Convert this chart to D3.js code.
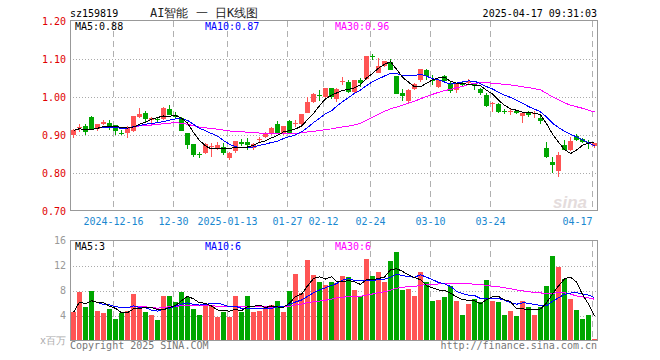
<!DOCTYPE html>
<head>
<meta charset="utf-8">
<style>
body { margin: 0; background: #fff; }
text { font-family: "DejaVu Sans Mono", monospace; font-size: 10px; }
</style>
</head>
<body>
<div id="chart"></div>
<script src="https://d3js.org/d3.v7.min.js"></script>
<script>
// trading days shown
var dates = [
  "2024-12-05","2024-12-06","2024-12-09","2024-12-10","2024-12-11","2024-12-12","2024-12-13","2024-12-16","2024-12-17","2024-12-18",
  "2024-12-19","2024-12-20","2024-12-23","2024-12-24","2024-12-25","2024-12-26","2024-12-27","2024-12-30","2024-12-31",
  "2025-01-02","2025-01-03","2025-01-06","2025-01-07","2025-01-08","2025-01-09","2025-01-10","2025-01-13","2025-01-14","2025-01-15",
  "2025-01-16","2025-01-17","2025-01-20","2025-01-21","2025-01-22","2025-01-23","2025-01-24","2025-01-27",
  "2025-02-05","2025-02-06","2025-02-07","2025-02-10","2025-02-11","2025-02-12","2025-02-13","2025-02-14","2025-02-17","2025-02-18",
  "2025-02-19","2025-02-20","2025-02-21","2025-02-24","2025-02-25","2025-02-26","2025-02-27","2025-02-28",
  "2025-03-03","2025-03-04","2025-03-05","2025-03-06","2025-03-07","2025-03-10","2025-03-11","2025-03-12","2025-03-13","2025-03-14",
  "2025-03-17","2025-03-18","2025-03-19","2025-03-20","2025-03-21","2025-03-24","2025-03-25","2025-03-26","2025-03-27","2025-03-28","2025-03-31",
  "2025-04-01","2025-04-02","2025-04-03","2025-04-07","2025-04-08","2025-04-09","2025-04-10","2025-04-11","2025-04-14","2025-04-15","2025-04-16","2025-04-17"
];
var opens = [0.898,0.919,0.924,0.948,0.915,0.930,0.932,0.926,0.906,0.905,0.911,0.948,0.957,0.940,0.942,0.941,0.968,0.953,0.944,0.906,
  0.875,0.850,0.852,0.870,0.865,0.868,0.839,0.860,0.882,0.882,0.866,0.888,0.896,0.903,0.928,0.904,0.937,0.929,0.929,0.959,
  0.988,1.004,0.999,1.023,0.994,1.042,1.040,1.014,1.045,1.047,1.107,1.064,1.082,1.093,1.055,1.010,0.988,1.020,1.043,1.071,
  1.046,1.027,1.054,1.038,1.017,1.035,1.038,1.036,1.020,1.005,0.983,0.982,0.962,0.961,0.962,0.948,0.961,0.958,0.946,0.865,
  0.830,0.806,0.874,0.861,0.897,0.890,0.882,0.871];
var highs = [0.915,0.929,0.929,0.950,0.930,0.940,0.940,0.926,0.913,0.924,0.950,0.970,0.964,0.948,0.948,0.975,0.979,0.961,0.948,0.906,
  0.875,0.856,0.878,0.880,0.882,0.878,0.856,0.885,0.889,0.891,0.878,0.894,0.909,0.920,0.938,0.924,0.940,0.940,0.955,1.001,
  1.011,1.018,1.025,1.023,1.023,1.053,1.046,1.045,1.049,1.108,1.113,1.102,1.096,1.099,1.055,1.020,1.020,1.036,1.075,1.073,
  1.058,1.046,1.058,1.040,1.036,1.040,1.047,1.038,1.023,1.010,0.988,0.985,0.968,0.970,0.966,0.957,0.962,0.962,0.952,0.882,
  0.841,0.856,0.887,0.894,0.903,0.891,0.887,0.880];
var lows = [0.893,0.909,0.900,0.913,0.910,0.926,0.913,0.900,0.900,0.891,0.908,0.944,0.935,0.930,0.932,0.940,0.953,0.946,0.911,0.862,
  0.843,0.839,0.850,0.843,0.860,0.847,0.834,0.853,0.871,0.860,0.860,0.882,0.891,0.900,0.904,0.900,0.903,0.920,0.926,0.957,
  0.985,0.990,0.996,0.996,0.988,1.032,1.011,1.010,1.027,1.045,1.097,1.062,1.080,1.071,1.008,0.990,0.985,1.018,1.040,1.046,
  1.032,1.025,1.037,1.010,1.010,1.027,1.034,1.018,1.005,0.973,0.961,0.957,0.955,0.953,0.955,0.932,0.948,0.946,0.929,0.839,
  0.799,0.789,0.861,0.859,0.885,0.878,0.862,0.867];
var closes = [0.912,0.921,0.909,0.917,0.929,0.935,0.920,0.911,0.905,0.920,0.950,0.955,0.940,0.944,0.941,0.970,0.953,0.948,0.911,0.874,
  0.847,0.849,0.875,0.871,0.874,0.853,0.852,0.885,0.878,0.874,0.876,0.889,0.906,0.918,0.904,0.924,0.903,0.931,0.955,0.988,
  1.008,1.003,1.023,0.999,1.020,1.043,1.014,1.045,1.038,1.108,1.106,1.082,1.096,1.073,1.008,1.001,1.018,1.034,1.073,1.055,
  1.045,1.046,1.042,1.017,1.034,1.034,1.042,1.027,1.010,0.976,0.984,0.961,0.961,0.962,0.958,0.957,0.953,0.959,0.938,0.841,
  0.821,0.847,0.862,0.885,0.887,0.883,0.876,0.878];
// volume in millions
var volumes = [4.5,7.8,5.3,7.9,4.8,4.4,5.1,3.5,4.4,4.8,7.5,5.4,4.6,4.1,3.3,7.2,7.2,6.2,7.8,7.0,
  5.1,4.1,5.8,5.6,3.8,4.5,3.8,7.2,4.5,7.2,4.6,4.8,5.3,5.7,6.4,4.5,7.9,10.7,7.6,12.9,
  10.5,9.3,8.9,9.4,9.2,10.3,10.1,8.1,7.1,13.1,10.3,11.0,9.3,12.8,14.1,8.1,8.2,7.2,11.0,9.3,
  6.4,6.5,6.9,8.8,6.4,4.1,5.9,6.7,6.2,9.7,6.4,6.2,4.1,4.8,3.9,6.4,5.4,4.1,5.4,8.8,
  13.5,11.8,9.9,6.7,4.9,3.5,4.1,0.2];

var tickDates = ["2024-12-16","2024-12-30","2025-01-13","2025-01-27","2025-02-12","2025-02-24","2025-03-10","2025-03-24","2025-04-17"];
var tickLabels = ["2024-12-16","12-30","2025-01-13","01-27","02-12","02-24","03-10","03-24","04-17"];
var priceTicks = [0.70, 0.80, 0.90, 1.00, 1.10, 1.20];
var volTicks = [4, 8, 12, 16];

var RED = "#ff5454", GREEN = "#00a600";

var svg = d3.select("#chart").append("svg")
    .attr("width", 660)
    .attr("height", 360);

var x = d3.scaleBand().domain(dates).range([70, 597]);
var bw = x.bandwidth();
function cx(i) { return Math.round(x(dates[i]) + bw / 2) + 0.5; }
function gx(d) { return Math.round(x(d)) + 1.5; }

var y = d3.scaleLinear().domain([0.70, 1.20]).range([211, 21]);
var yv = d3.scaleLinear().domain([0, 16]).range([340.5, 240.5]);

function ma(arr, n) {
  return arr.map(function(d, i) {
    return d3.mean(arr.slice(Math.max(0, i - n + 1), i + 1));
  });
}

// header
svg.append("text").attr("x", 70).attr("y", 17).text("sz159819");
svg.append("text").attr("x", 150).attr("y", 17)
    .style("font-size", "12px").attr("fill", "#222")
    .text("AI智能 一 日K线图");
svg.append("text").attr("x", 597).attr("y", 17).attr("text-anchor", "end")
    .text("2025-04-17 09:31:03");

// grids
function panelGrid(top, bottom, hTicks, ys) {
  svg.selectAll(null).data(hTicks).enter().append("line")
      .attr("x1", 70).attr("x2", 597)
      .attr("y1", function(d) { return Math.round(ys(d)) + 0.5; })
      .attr("y2", function(d) { return Math.round(ys(d)) + 0.5; })
      .attr("stroke", "#aaa").attr("stroke-dasharray", "1,2");
  svg.selectAll(null).data(tickDates).enter().append("line")
      .attr("x1", gx).attr("x2", gx)
      .attr("y1", top).attr("y2", bottom)
      .attr("stroke", "#b0b0b0").attr("stroke-dasharray", "6,4");
}
panelGrid(21, 211, [0.80, 0.90, 1.00, 1.10], y);
panelGrid(241, 340, [4, 8, 12], yv);

svg.append("text").attr("x", 570).attr("y", 208)
    .attr("text-anchor", "middle")
    .style("font-family", "Liberation Sans").style("font-style", "italic").style("font-weight", "bold")
    .style("font-size", "17px").attr("fill", "#e4dcdc").text("sina");

// candles
var idx = d3.range(dates.length);
var candle = svg.append("g").selectAll("g").data(idx).enter().append("g")
    .attr("shape-rendering", "crispEdges");
candle.append("line")
    .attr("x1", cx).attr("x2", cx)
    .attr("y1", function(i) { return y(highs[i]); })
    .attr("y2", function(i) { return y(lows[i]); })
    .attr("stroke", function(i) { return closes[i] >= opens[i] ? RED : GREEN; });
candle.append("rect")
    .attr("x", function(i) { return cx(i) - 2.5; })
    .attr("width", 5)
    .attr("y", function(i) { return Math.round(y(Math.max(opens[i], closes[i]))); })
    .attr("height", function(i) { return Math.max(1, Math.round(Math.abs(y(opens[i]) - y(closes[i])))); })
    .attr("fill", function(i) { return closes[i] >= opens[i] ? RED : GREEN; });

// volume bars
svg.append("g").selectAll("rect").data(idx).enter().append("rect")
    .attr("shape-rendering", "crispEdges")
    .attr("x", function(i) { return cx(i) - 2.5; })
    .attr("width", 5)
    .attr("y", function(i) { return yv(volumes[i]); })
    .attr("height", function(i) { return yv(0) - yv(volumes[i]); })
    .attr("fill", function(i) { return closes[i] >= opens[i] ? RED : GREEN; });

// moving averages
var maColors = { 5: "#000", 10: "#0000ff", 30: "#ff00ff" };
[30, 10, 5].forEach(function(n) {
  var pl = d3.line().x(function(d, i) { return cx(i); }).y(function(d) { return y(d); });
  svg.append("path").attr("d", pl(ma(closes, n)))
      .attr("fill", "none").attr("stroke", maColors[n]).attr("stroke-width", 1)
      .attr("shape-rendering", "crispEdges");
  var vl = d3.line().x(function(d, i) { return cx(i); }).y(function(d) { return yv(d); });
  svg.append("path").attr("d", vl(ma(volumes, n)))
      .attr("fill", "none").attr("stroke", maColors[n]).attr("stroke-width", 1)
      .attr("shape-rendering", "crispEdges");
});

// frames
svg.append("rect").attr("x", 70.5).attr("y", 20.5).attr("width", 527).attr("height", 190)
    .attr("fill", "none").attr("stroke", "#999");
svg.append("rect").attr("x", 70.5).attr("y", 240.5).attr("width", 527).attr("height", 100)
    .attr("fill", "none").attr("stroke", "#999");

// axis labels
svg.selectAll(null).data(priceTicks).enter().append("text")
    .attr("x", 66).attr("y", function(d) { return y(d); })
    .attr("dy", "0.35em").attr("text-anchor", "end").attr("fill", "#e00000")
    .text(function(d) { return d3.format(".2f")(d); });
svg.selectAll(null).data(volTicks).enter().append("text")
    .attr("x", 66).attr("y", function(d) { return yv(d); })
    .attr("dy", "0.35em").attr("text-anchor", "end").attr("fill", "#999")
    .text(function(d) { return d; });
svg.append("text").attr("x", 66).attr("y", 344).attr("text-anchor", "end")
    .attr("fill", "#aaa").text("x百万");
svg.selectAll(null).data(tickDates).enter().append("text")
    .attr("x", gx)
    .attr("y", 225)
    .attr("text-anchor", function(d, i) { return i == tickDates.length - 1 ? "end" : "middle"; })
    .attr("fill", "#1a88d0")
    .text(function(d, i) { return tickLabels[i]; });

// MA legends
var legend = [["MA5:0.88", "MA5:3", "#000", 75], ["MA10:0.87", "MA10:6", "#0000ff", 205], ["MA30:0.96", "MA30:6", "#ff00ff", 335]];
legend.forEach(function(l) {
  svg.append("text").attr("x", l[3]).attr("y", 30).attr("fill", l[2]).text(l[0]);
  svg.append("text").attr("x", l[3]).attr("y", 250).attr("fill", l[2]).text(l[1]);
});

// footer
svg.append("text").attr("x", 70).attr("y", 349).attr("fill", "#777").text("Copyright 2025 SINA.COM");
svg.append("text").attr("x", 597).attr("y", 349).attr("text-anchor", "end").attr("fill", "#777")
    .text("http://finance.sina.com.cn");
</script>
</body>
</html>
